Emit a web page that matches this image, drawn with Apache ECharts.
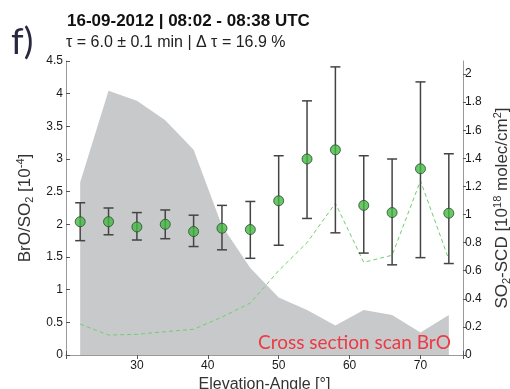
<!DOCTYPE html>
<html><head><meta charset="utf-8">
<script src="https://cdn.jsdelivr.net/npm/echarts@6/dist/echarts.min.js"></script>
<style>html,body{margin:0;padding:0;background:#fff}#c{width:510px;height:389px}</style>
</head><body><div id="c"></div>
<script>
const angles = [22,26,30,34,38,42,46,50,54,58,62,66,70,74];
const ratio = [2.04,2.04,1.96,2.00,1.89,1.94,1.92,2.36,3.00,3.14,2.29,2.18,2.85,2.17];
const ratioLow = [1.75,1.84,1.76,1.78,1.66,1.61,1.48,1.68,2.09,1.87,1.56,1.38,1.49,1.40];
const ratioHigh = [2.33,2.25,2.18,2.22,2.14,2.29,2.35,3.05,3.89,4.41,3.05,3.00,4.18,3.08];
const so2scd = [1.23,1.88,1.81,1.67,1.46,0.92,0.62,0.41,0.32,0.21,0.32,0.285,0.16,0.285];
const broScd = [0.22,0.142,0.147,0.166,0.183,0.27,0.37,0.60,0.80,1.08,0.66,0.71,1.24,0.68];
const xTicks = [30,40,50,60,70];

const chart = echarts.init(document.getElementById('c'), null, {renderer:'canvas'});
const FONT = 'Liberation Sans';
const axisCol = '#9a9a9a';
const lblStyle = {color:'#1a1a1a', fontSize:12, fontFamily:FONT};
const richY = {
  sub:{fontSize:11, verticalAlign:'bottom', padding:[7,0,0,0], color:'#333', fontFamily:FONT},
  sup:{fontSize:11, verticalAlign:'top', padding:[0,0,9,0], color:'#333', fontFamily:FONT}
};

const option = {
  animation:false,
  backgroundColor:'#fff',
  grid:{left:66, right:47, top:61, bottom:34, show:false, containLabel:false, outerBoundsMode:'none'},
  xAxis:[{
    type:'value', min:20, max:76, interval:10, position:'bottom',
    axisLine:{show:true, lineStyle:{color:axisCol, width:1}},
    axisTick:{show:true, inside:true, length:4, lineStyle:{color:'#555'}},
    splitLine:{show:false},
    axisLabel:{...lblStyle, margin:5, formatter:v=> xTicks.includes(v)? String(v):''},
    name:'Elevation-Angle [°]', nameLocation:'middle', nameGap:21,
    nameTextStyle:{color:'#333', fontSize:16, fontFamily:FONT}
  },{
    type:'value', min:20, max:76, interval:10, position:'top',
    axisLine:{show:true, lineStyle:{color:axisCol, width:1}},
    axisTick:{show:true, inside:true, length:4, lineStyle:{color:'#555'}},
    axisLabel:{show:false}, splitLine:{show:false}
  }],
  yAxis:[{
    type:'value', min:0, max:4.5, interval:0.5, position:'left',
    axisLine:{show:true, lineStyle:{color:axisCol, width:1}},
    axisTick:{show:true, inside:true, length:4, lineStyle:{color:'#555'}},
    splitLine:{show:false},
    axisLabel:{...lblStyle, margin:3},
    name:'BrO/SO{sub|2} [10{sup|-4}]', nameLocation:'middle', nameGap:27, nameRotate:90,
    nameTextStyle:{color:'#333', fontSize:17, fontFamily:FONT, rich:richY}
  },{
    type:'value', min:0, max:2.0925, interval:0.2, position:'right',
    axisLine:{show:true, lineStyle:{color:axisCol, width:1}},
    axisTick:{show:true, inside:false, length:3, lineStyle:{color:'#555'}},
    splitLine:{show:false},
    axisLabel:{...lblStyle, margin:2, showMaxLabel:false,
      formatter:v=> (Math.abs(v*5-Math.round(v*5))<1e-6)? String(Math.round(v*10)/10):''},
    name:'SO{sub|2}-SCD [10{sup|18} molec/cm{sup|2}]', nameLocation:'middle', nameGap:24, nameRotate:90,
    nameTextStyle:{color:'#333', fontSize:17, fontFamily:FONT, rich:richY}
  }],
  series:[{
    type:'line', yAxisIndex:1, z:1, symbol:'none',
    data: angles.map((a,i)=>[a, so2scd[i]]),
    lineStyle:{width:0}, areaStyle:{color:'#c8c9cb', opacity:1}
  },{
    type:'line', yAxisIndex:1, z:2, symbol:'none',
    data: angles.map((a,i)=>[a, broScd[i]]),
    lineStyle:{width:1, type:[4,3], color:'#6fcf6f'}
  },{
    type:'custom', yAxisIndex:0, z:3,
    data: angles.map((a,i)=>[a, ratioLow[i], ratioHigh[i]]),
    renderItem:(params, api)=>{
      const lo = api.coord([api.value(0), api.value(1)]);
      const hi = api.coord([api.value(0), api.value(2)]);
      const w = 5;
      const st = {stroke:'#444', lineWidth:1.5};
      return {type:'group', children:[
        {type:'line', shape:{x1:lo[0],y1:lo[1],x2:hi[0],y2:hi[1]}, style:st},
        {type:'line', shape:{x1:lo[0]-w,y1:lo[1],x2:lo[0]+w,y2:lo[1]}, style:st},
        {type:'line', shape:{x1:hi[0]-w,y1:hi[1],x2:hi[0]+w,y2:hi[1]}, style:st}
      ]};
    }
  },{
    type:'scatter', yAxisIndex:0, z:4, symbolSize:10,
    data: angles.map((a,i)=>[a, ratio[i]]),
    itemStyle:{color:'#44b944', borderColor:'#2b4a2b', borderWidth:1}
  }],
  graphic:[
    {type:'text', z:100, left:11, top:24, style:{text:'f)', font:'36px Lato', fill:'#2a2840'}},
    {type:'text', z:100, left:67, top:13, style:{text:'16-09-2012 | 08:02 - 08:38 UTC', font:'bold 17px "Liberation Sans"', fill:'#111'}},
    {type:'text', z:100, left:66, top:35, style:{text:'τ = 6.0 ± 0.1 min | Δ τ = 16.9 %', font:'16px "Liberation Sans"', fill:'#222'}},
    {type:'text', z:100, left:258, top:333, style:{text:'Cross section scan BrO', font:'19px Lato', fill:'#ec3a44'}}
  ]
};
chart.setOption(option);
</script></body></html>
